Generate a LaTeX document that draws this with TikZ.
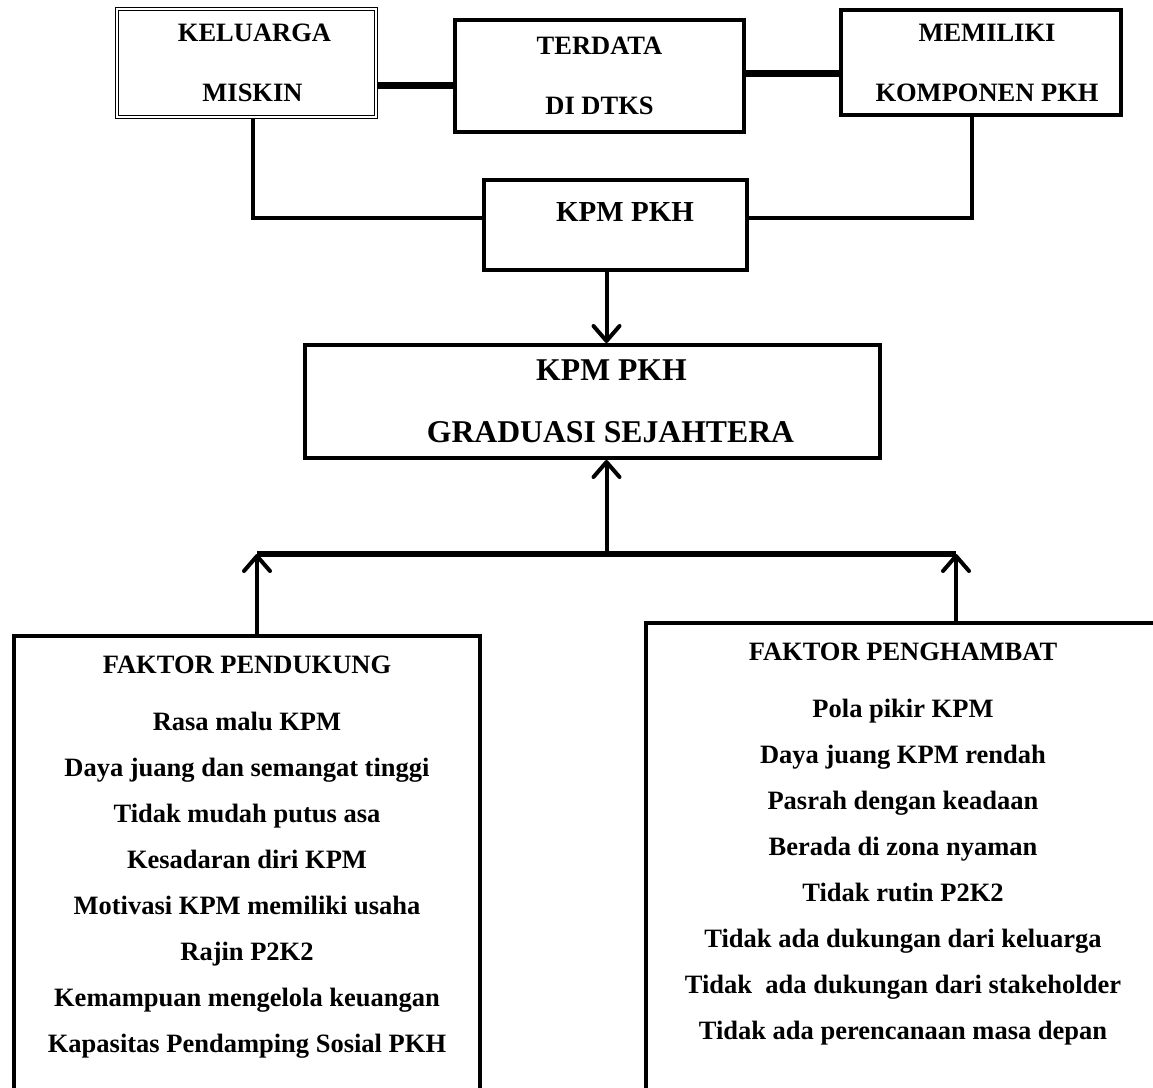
\documentclass[tikz,border=0pt]{standalone}
\usepackage{fontspec}
\setmainfont{Liberation Serif}
\usepackage{tikz}
\usetikzlibrary{arrows.meta, positioning, calc}

\begin{document}
\begin{tikzpicture}[x=1pt, y=-1pt,
  box/.style={rectangle, draw, line width=4pt, align=center, font=\fontsize{26.5}{60}\selectfont\bfseries},
  twin/.style={rectangle, draw, double, line width=1pt, double distance=2.2pt, align=center, font=\fontsize{26.5}{60}\selectfont\bfseries},
  panel/.style={rectangle, draw, line width=4pt, align=center, anchor=north, inner ysep=20pt, text depth=480pt, font=\fontsize{26.5}{46}\selectfont\bfseries},
  link/.style={line width=4pt},
  heavy/.style={line width=7pt},
  bus/.style={line width=6pt},
  arrow/.style={line width=4pt, -{Straight Barb[length=15pt, width=26pt, round]}}]

\useasboundingbox (0,0) rectangle (1153,1087);
\clip (0,0) rectangle (1153,1087);

% top row
\node[twin, minimum width=259pt, minimum height=108pt] (keluarga) at (246.5,63) {\hspace*{16pt}KELUARGA\\\hspace*{12pt}MISKIN};
\node[box, minimum width=289pt, minimum height=112pt] (terdata) at (599.5,76) {TERDATA\\DI DTKS};
\node[box, minimum width=280pt, minimum height=105pt] (memiliki) at (981,62.5) {\hspace*{12pt}MEMILIKI\\\hspace*{12pt}KOMPONEN PKH};

% middle
\node[box, minimum width=263pt, minimum height=90pt, text depth=26pt, font=\fontsize{29}{60}\selectfont\bfseries] (kpm) at (615,225) {\hspace*{20pt}KPM PKH};
\node[box, minimum width=575pt, minimum height=113pt, font=\fontsize{31.7}{62}\selectfont\bfseries] (graduasi) at (592.5,401.5) {\hspace*{38pt}KPM PKH\\\hspace*{36pt}GRADUASI SEJAHTERA};

% bottom
\node[panel, minimum width=466pt] (pendukung) at (247,634) {FAKTOR PENDUKUNG\\[11pt]
  Rasa malu KPM\\ Daya juang dan semangat tinggi\\ Tidak mudah putus asa\\ Kesadaran diri KPM\\
  Motivasi KPM memiliki usaha\\ Rajin P2K2\\ Kemampuan mengelola keuangan\\ Kapasitas Pendamping Sosial PKH};
\node[panel, minimum width=514pt] (penghambat) at (903,621) {FAKTOR PENGHAMBAT\\[11pt]
  Pola pikir KPM\\ Daya juang KPM rendah\\ Pasrah dengan keadaan\\ Berada di zona nyaman\\
  Tidak rutin P2K2\\ Tidak ada dukungan dari keluarga\\ Tidak\ \ ada dukungan dari stakeholder\\ Tidak ada perencanaan masa depan};

\coordinate (mid) at (606.5,554);
\coordinate (busL) at (257,554);
\coordinate (busR) at (956,554);

\draw[heavy] ([yshift=-22pt]keluarga.east) -- ([yshift=-22pt]keluarga.east -| terdata.west);
\draw[heavy] ([yshift=3pt]terdata.east) -- ([yshift=3pt]terdata.east -| memiliki.west);
\draw[link] ([xshift=6.5pt]keluarga.south) |- ([yshift=7pt]kpm.west);
\draw[link] ([xshift=-9pt]memiliki.south) |- ([yshift=7pt]kpm.east);

\draw[arrow] (kpm.south -| mid) -- (graduasi.north -| mid);
\draw[arrow] (mid) -- (graduasi.south -| mid);
\draw[bus] (busL) -- (busR);
\draw[arrow] (pendukung.north -| busL) -- (busL);
\draw[arrow] (penghambat.north -| busR) -- (busR);

\end{tikzpicture}
\end{document}
